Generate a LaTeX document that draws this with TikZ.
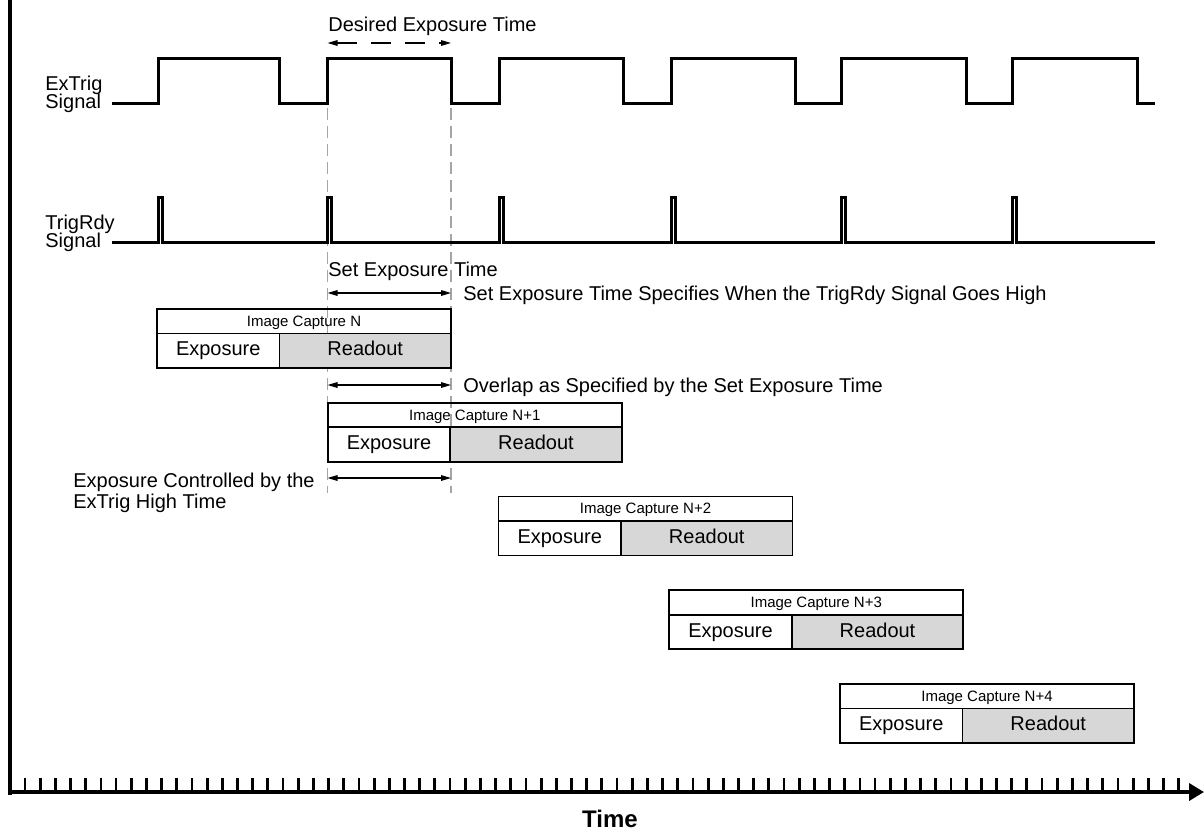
\documentclass[tikz,border=0pt]{standalone}
\usepackage{fontspec}
\setmainfont{Liberation Sans}
\usepackage{xcolor}
\usepackage{tikz}
\usetikzlibrary{arrows.meta, positioning, calc}
\definecolor{readgray}{RGB}{215, 215, 215}
\definecolor{guidegray}{RGB}{165, 165, 165}

\begin{document}
\begin{tikzpicture}[x=0.5pt, y=-0.5pt,
    sig/.style={line width=1.5pt},
    guide/.style={guidegray, line width=0.8pt, dash pattern=on 6pt off 3pt},
    dimarrow/.style={line width=0.6pt, {Triangle[length=5pt, width=2.8pt]}-{Triangle[length=5pt, width=2.8pt]}},
    lbl/.style={font=\fontsize{10}{12}\selectfont, inner sep=0pt},
    cellbox/.style={draw, line width=0.9pt, inner sep=0pt, outer sep=0pt, anchor=north west,
        text height=0.72em, text depth=0.2em}]
    \useasboundingbox (0,0) rectangle (1204,832);

    % 虚线参考线
    \draw[guide] (327.5,108) -- (327.5,493);
    \draw[guide] (451,108) -- (451,493);

    % ExTrig 信号
    \node[lbl, anchor=base west] (extrig) at (45,90) {ExTrig};
    \node[lbl, anchor=base west] (exsig) at (45,108) {Signal};
    \draw[sig] (112,103) foreach \r/\f in {158/279.5, 327.5/451, 499.5/623, 671/795, 841.5/966, 1012/1137} {
        -| (\r,58) -| (\f,103)
    } -- (1155,103);

    % TrigRdy 信号
    \node[lbl, anchor=base west] (trigrdy) at (45,229) {TrigRdy};
    \node[lbl, anchor=base west] (trsig) at (45,247) {Signal};
    \draw[sig] (112,242) foreach \r in {158, 327.5, 499.5, 671, 841.5, 1012} {
        -| (\r,197) -| (\r+4,242)
    } -- (1155,242);

    % 曝光时间标注
    \node[lbl, anchor=base west] (desired) at (328,31) {Desired Exposure Time};
    \coordinate (dA) at (327.5,43);
    \coordinate (dB) at (451,43);
    \draw[dimarrow, dash pattern=on 10pt off 7pt] (dA) -- (dB);

    \node[lbl, anchor=base west] (setexp) at (328,276) {Set Exposure Time};
    \coordinate (sA) at (327.5,293);
    \coordinate (sB) at (451,293);
    \draw[dimarrow] (sA) -- (sB);
    \node[lbl, anchor=base west] (spec) at (463,300) {Set Exposure Time Specifies When the TrigRdy Signal Goes High};

    \coordinate (oA) at (327.5,385);
    \coordinate (oB) at (451,385);
    \draw[dimarrow] (oA) -- (oB);
    \node[lbl, anchor=base west] (overlap) at (463,392) {Overlap as Specified by the Set Exposure Time};

    \coordinate (cA) at (327.5,478);
    \coordinate (cB) at (451,478);
    \draw[dimarrow] (cA) -- (cB);
    \node[lbl, anchor=base west] (ctrl1) at (73,487) {Exposure Controlled by the};
    \node[lbl, anchor=base west] (ctrl2) at (73,508) {ExTrig High Time};

    % 图像采集
    \foreach \k/\n in {0/N, 1/N+1, 2/N+2, 3/N+3, 4/N+4} {
        \node[cellbox, minimum width=147pt, minimum height=12.25pt, font=\fontsize{7.5}{9}\selectfont]
            (hd\k) at (157+170.75*\k, 309+93.75*\k) {Image Capture \n};
        \node[cellbox, minimum width=61.25pt, minimum height=17.25pt, font=\fontsize{10}{12}\selectfont]
            (ex\k) at (hd\k.south west) {Exposure};
        \node[cellbox, fill=readgray, minimum width=85.75pt, minimum height=17.25pt, font=\fontsize{10}{12}\selectfont]
            (ro\k) at (ex\k.north east) {Readout};
    }

    % 时间轴
    \coordinate (ytop) at (10,0);
    \coordinate (ybot) at (10,795);
    \coordinate (origin) at (10,792);
    \coordinate (xend) at (1204,792);
    \draw[line width=1.7pt] (ytop) -- (ybot);
    \draw[line width=1.8pt, -{Triangle[length=7.5pt, width=8.5pt]}] (origin) -- (xend);
    \foreach \i in {0,...,76} {
        \draw[line width=1.4pt] (25+15.18*\i,778) -- ++(0,14);
    }
    \node[font=\fontsize{12}{14}\selectfont\bfseries, anchor=base] (timelbl) at (610,827) {Time};
\end{tikzpicture}
\end{document}
